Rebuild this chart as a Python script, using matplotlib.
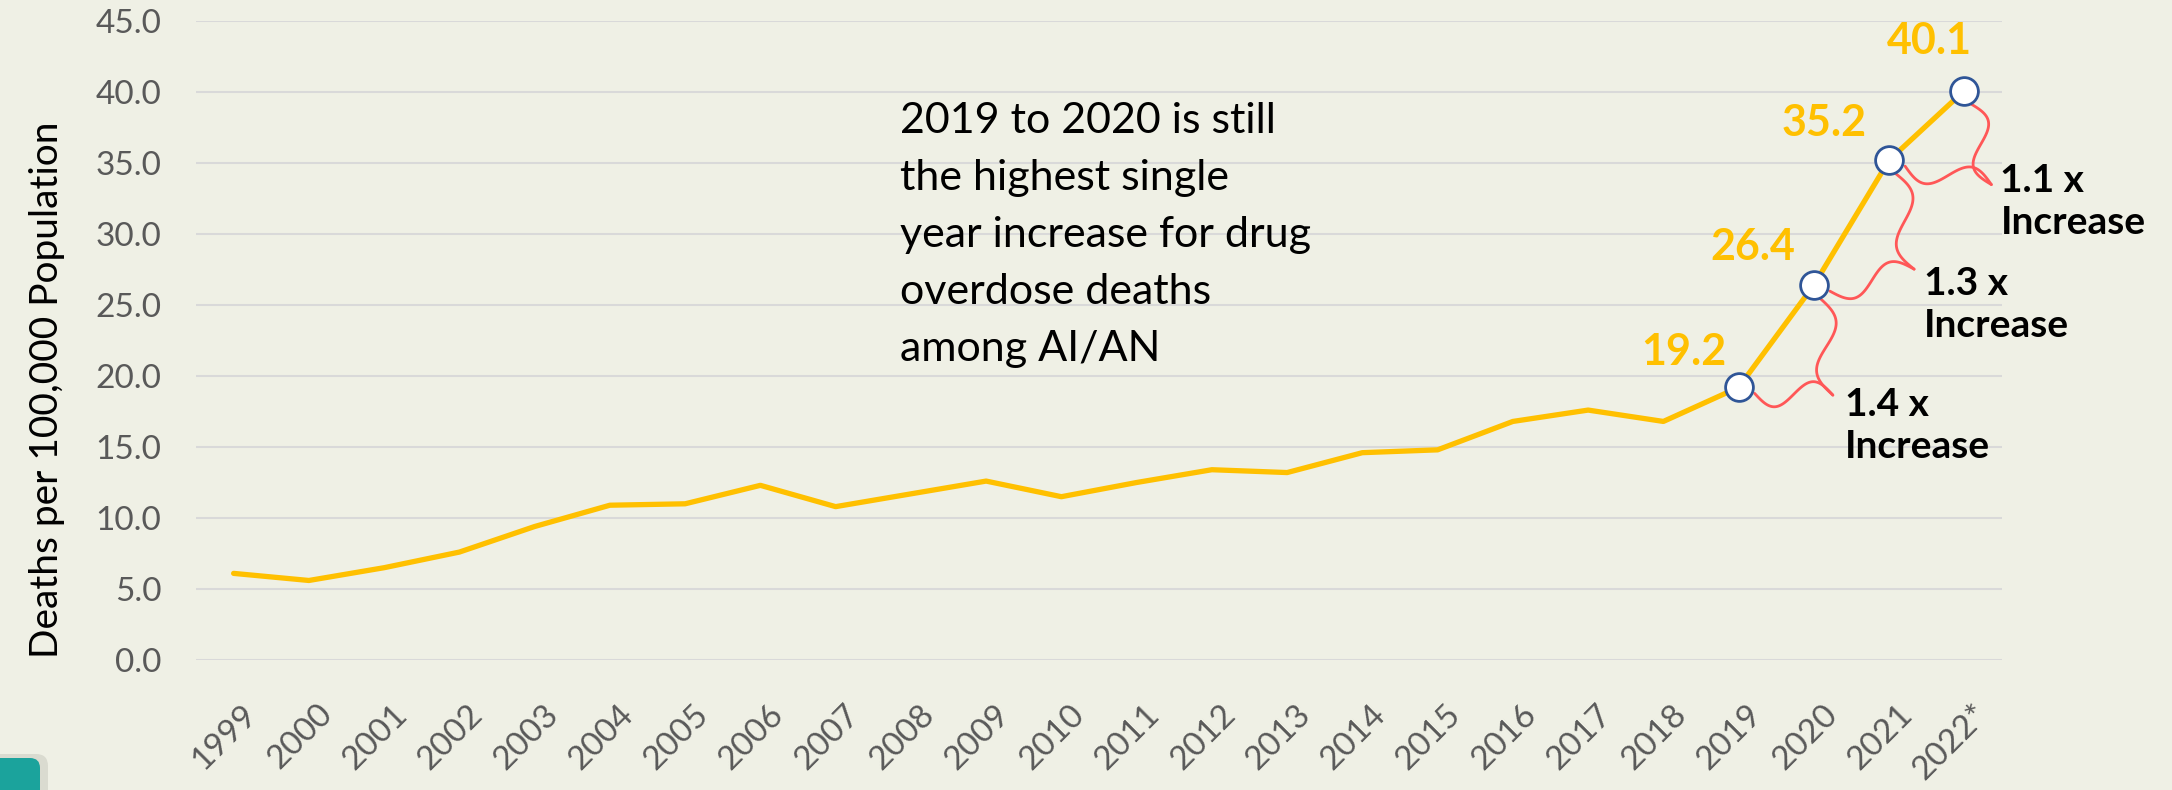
import numpy as np
import matplotlib
matplotlib.use("Agg")
import matplotlib.pyplot as plt
from matplotlib.transforms import ScaledTranslation
from matplotlib.patches import FancyBboxPatch

# Drug overdose death rates among AI/AN, per 100,000 population
years = ["1999", "2000", "2001", "2002", "2003", "2004", "2005", "2006",
         "2007", "2008", "2009", "2010", "2011", "2012", "2013", "2014",
         "2015", "2016", "2017", "2018", "2019", "2020", "2021", "2022*"]
rates = [6.1, 5.6, 6.5, 7.6, 9.4, 10.9, 11.0, 12.3, 10.8, 11.7, 12.6, 11.5,
         12.5, 13.4, 13.2, 14.6, 14.8, 16.8, 17.6, 16.8, 19.2, 26.4, 35.2, 40.1]

highlight_years = ["2019", "2020", "2021", "2022*"]
increase_labels = ["1.4 x\nIncrease", "1.3 x\nIncrease", "1.1 x\nIncrease"]
y_ticks = np.arange(0, 46, 5)
note_lines = ["2019 to 2020 is still", "the highest single",
              "year increase for drug", "overdose deaths", "among AI/AN"]

BG = "#EFF0E5"
GOLD = "#FFC000"
RED = "#FF5757"
NAVY = "#2F5597"
GREY = "#595959"
FONT = "Lato"

W, H = 2172, 790
fig = plt.figure(figsize=(W / 100, H / 100), dpi=100, facecolor=BG)
ax = fig.add_axes([196 / W, 130 / H, 1806 / W, 639 / H])
ax.set_facecolor(BG)

x = np.arange(len(years))
ax.plot(x, rates, color=GOLD, lw=3.8, zorder=3, solid_capstyle="round")

ax.set_xlim(-0.5, len(years) - 0.5)
ax.set_ylim(0, 45)
ax.set_yticks(y_ticks)
ax.set_yticklabels([f"{v:.1f}" for v in y_ticks], fontsize=24, color=GREY,
                   family=FONT)
ax.set_xticks(x)
ax.set_xticklabels(years, fontsize=24, color=GREY, family=FONT, rotation=45,
                   ha="right", va="top", rotation_mode="anchor")
ax.tick_params(axis="both", length=0)
ax.tick_params(axis="y", pad=25)
ax.tick_params(axis="x", pad=28)
shift = ScaledTranslation(8 / 100, 0, fig.dpi_scale_trans)
for lab in ax.get_xticklabels():
    lab.set_transform(lab.get_transform() + shift)

ax.yaxis.grid(True, color="#D9D9D9", lw=1.5)
ax.set_axisbelow(True)
for s in ax.spines.values():
    s.set_visible(False)

fig.text(47 / W, 1 - 390 / H, "Deaths per 100,000 Population", rotation=90,
         ha="center", va="center", fontsize=28, color="black", family=FONT)

# Highlighted points with their value labels
hi_idx = [years.index(y) for y in highlight_years]
hi_val = [rates[i] for i in hi_idx]
ax.plot(hi_idx, hi_val, "o", ms=20, mfc="white", mec=NAVY, mew=2,
        zorder=5, clip_on=False)
value_offsets = [(-55, 35), (-61, 38), (-65, 37), (-35, 50)]
for i, v, (dx, dy) in zip(hi_idx, hi_val, value_offsets):
    ax.annotate(f"{v:.1f}", xy=(i, v), xytext=(dx, dy),
                textcoords="offset pixels", ha="center", va="center",
                fontsize=31, fontweight="bold", color=GOLD, family=FONT,
                zorder=6)

# Curly brackets between consecutive highlighted points (pixel offsets,
# screen-down convention) and the growth-factor labels
tip_offsets = [(19, 110), (25, 109), (27, 94)]
label_offsets = [(31, 102), (35, 106), (36, 72)]


def brace_half(p0, tip, other, amp=13.0, n=80):
    t = np.linspace(0, 1, n)
    d = tip - p0
    nrm = np.array([-d[1], d[0]]) / np.hypot(d[0], d[1])
    if np.dot(nrm, p0 - other) < 0:
        nrm = -nrm
    return (p0[None, :] + t[:, None] * d[None, :]
            + amp * np.sin(2 * np.pi * t)[:, None] * nrm[None, :])


to_disp = ax.transData
to_data = ax.transData.inverted()
for k in range(len(hi_idx) - 1):
    a = to_disp.transform((hi_idx[k], hi_val[k]))
    b = to_disp.transform((hi_idx[k + 1], hi_val[k + 1]))
    start = a + np.array([16, -6])
    end = b + np.array([6, -13])
    tdx, tdy = tip_offsets[k]
    tip = b + np.array([tdx, -tdy])
    for p0, other in ((start, end), (end, start)):
        pts = to_data.transform(brace_half(p0, tip, other))
        ax.plot(pts[:, 0], pts[:, 1], color=RED, lw=2.0, zorder=4,
                clip_on=False, solid_capstyle="round")
    ldx, ldy = label_offsets[k]
    ax.annotate(increase_labels[k], xy=(hi_idx[k + 1], hi_val[k + 1]),
                xytext=(ldx, -ldy), textcoords="offset pixels",
                ha="left", va="top", fontsize=28, fontweight="bold",
                color="black", family=FONT, linespacing=1.25, zorder=6,
                annotation_clip=False)

# Note text
for j, line in enumerate(note_lines):
    fig.text(900 / W, 1 - (133 + 57 * j) / H, line, ha="left",
             va="baseline", fontsize=31, color="black", family=FONT)

# Teal corner tab
fig.patches.append(FancyBboxPatch((-30, -30), 78, 66, transform=None,
                                  boxstyle="round,pad=0,rounding_size=12",
                                  fc="#C9CABF", ec="none", alpha=0.55))
fig.patches.append(FancyBboxPatch((-30, -30), 70, 62, transform=None,
                                  boxstyle="round,pad=0,rounding_size=10",
                                  fc="#1BA39C", ec="none"))

fig.savefig("out.png", dpi=100, facecolor=BG)
